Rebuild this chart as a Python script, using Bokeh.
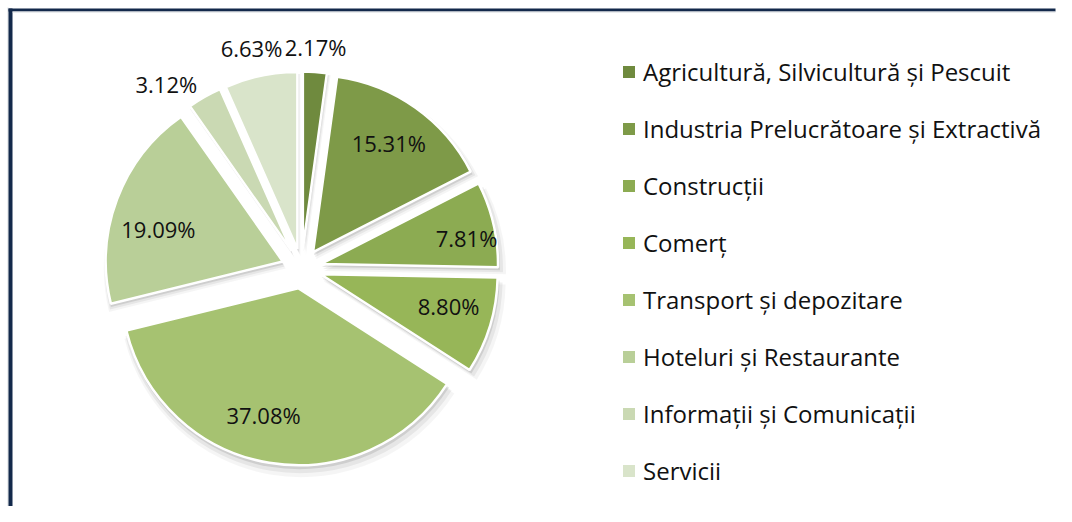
import math
import numpy as np
from bokeh.plotting import figure
from bokeh.models import ColumnDataSource, Range1d, Legend, LegendItem, BoxAnnotation
from bokeh.core.properties import value
from bokeh.embed import file_html
from bokeh.resources import INLINE

# ---------------- data ----------------
categories = [
    "Agricultură, Silvicultură și Pescuit",
    "Industria Prelucrătoare și Extractivă",
    "Construcții",
    "Comerț",
    "Transport și depozitare",
    "Hoteluri și Restaurante",
    "Informații și Comunicații",
    "Servicii",
]
values = [2.17, 15.31, 7.81, 8.80, 37.08, 19.09, 3.12, 6.63]
colors = ["#6f8a3e", "#7e9a48", "#8cab52", "#97b658", "#a6c271", "#b9cf98", "#cad9b3", "#d9e4ca"]

# ---------------- layout / style ----------------
W, H = 1056, 506
CX, CY = 301, H - 268      # pie centre (data units == pixels)
R = 177                    # radius
EXPLODE = 20               # explode distance
# label placement (polar, relative to each exploded slice's apex)
label_r = [1.14, 0.75, 0.835, 0.745, 0.74, 0.727, 1.18, 1.167]    # fraction of R
label_dtheta = [-0.3, -0.6, 3.0, -2.8, 5.9, -5.7, -7.4, -0.9]       # degrees
FONT = "Open Sans"

vals = np.array(values, dtype=float)
total = vals.sum()
ends = np.cumsum(vals) / total
starts = ends - vals / total
mids = (starts + ends) / 2
theta = 2 * np.pi * mids                      # clockwise from top
start_ang = np.pi / 2 - 2 * np.pi * starts
end_ang = np.pi / 2 - 2 * np.pi * ends
xs = CX + EXPLODE * np.sin(theta)
ys = CY + EXPLODE * np.cos(theta)

src = ColumnDataSource(dict(x=xs, y=ys, start=start_ang, end=end_ang,
                            color=colors, cat=categories))

p = figure(width=W, height=H, x_range=Range1d(0, W), y_range=Range1d(0, H),
           output_backend="svg", toolbar_location=None,
           x_axis_location=None, y_axis_location=None, min_border=0,
           outline_line_color=None, background_fill_color="white",
           border_fill_color="white")
p.grid.visible = False

# frame (left / top dark border)
NAVY = "#13294b"
p.add_layout(BoxAnnotation(left=7, right=8, bottom=0, top=H - 7, fill_color="#d5d9de",
                           fill_alpha=1, line_color=None, line_alpha=0, level="overlay"))
p.add_layout(BoxAnnotation(left=8, right=12, bottom=0, top=H - 8, fill_color=NAVY,
                           fill_alpha=1, line_color=None, line_alpha=0, level="overlay"))
p.add_layout(BoxAnnotation(left=8, right=W - 1, bottom=H - 11, top=H - 8, fill_color=NAVY,
                           fill_alpha=1, line_color=None, line_alpha=0, level="overlay"))
p.add_layout(BoxAnnotation(left=12, right=W - 1, bottom=H - 12, top=H - 11, fill_color="#d5d9de",
                           fill_alpha=1, line_color=None, line_alpha=0, level="overlay"))

# soft shadows
for dx, dy, dr, a in [(1, -3, 1, 0.10), (2, -5, 3, 0.06), (3, -7, 5, 0.04)]:
    shsrc = ColumnDataSource(dict(x=xs + dx, y=ys + dy, start=start_ang, end=end_ang))
    p.wedge(x="x", y="y", radius=R + dr, start_angle="start", end_angle="end",
            direction="clock", source=shsrc, fill_color="black", fill_alpha=a,
            line_color=None)

# slices
p.wedge(x="x", y="y", radius=R, start_angle="start", end_angle="end",
        direction="clock", source=src, fill_color="color", line_color="white",
        line_width=2.5)

# data labels
lx, ly = [], []
for i, v in enumerate(values):
    t = theta[i] + math.radians(label_dtheta[i])
    rr = label_r[i] * R
    lx.append(xs[i] + rr * math.sin(t))
    ly.append(ys[i] + rr * math.cos(t))
lsrc = ColumnDataSource(dict(x=lx, y=ly, t=[f"{v:.2f}%" for v in values]))
p.text(x="x", y="y", text="t", source=lsrc, text_align="center", text_baseline="middle",
       text_font=value(FONT), text_font_size=value("22px"), text_color="#111111")

# legend
nan = [float("nan")] * len(values)
legsrc = ColumnDataSource(dict(l=nan, r=nan, b=nan, t=nan, color=colors))
qr = p.quad(left="l", right="r", bottom="b", top="t", source=legsrc,
            fill_color="color", line_color=None)
items = [LegendItem(label=cat, renderers=[qr], index=i) for i, cat in enumerate(categories)]
legend = Legend(items=items, location=(621, H - 499), orientation="vertical",
                glyph_width=15, glyph_height=15, label_height=57, spacing=0,
                padding=0, margin=0, label_standoff=7,
                label_text_font=FONT, label_text_font_size="24px",
                label_text_color="#111111", border_line_color=None,
                background_fill_alpha=0)
p.add_layout(legend)

open("out.html", "w").write(file_html(p, INLINE))
